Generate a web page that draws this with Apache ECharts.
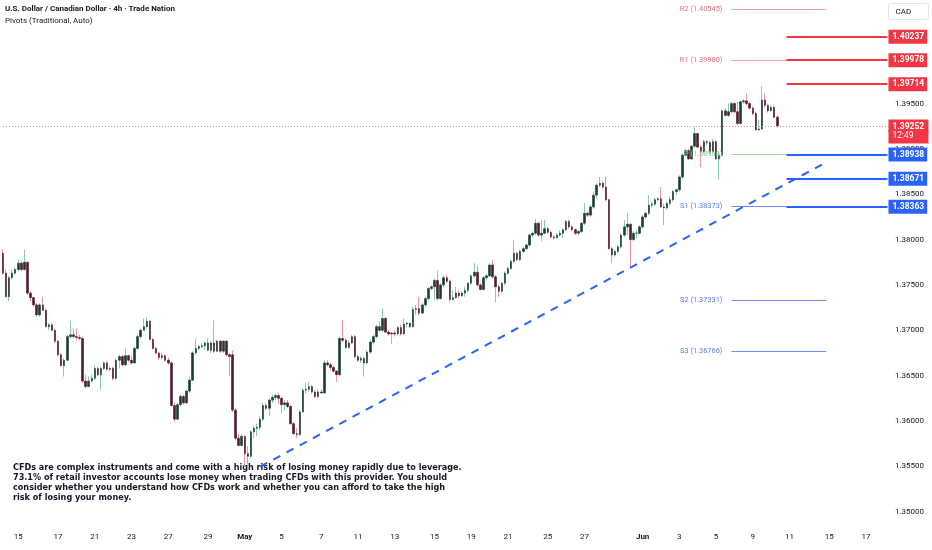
<!DOCTYPE html>
<html><head><meta charset="utf-8">
<script src="https://cdn.jsdelivr.net/npm/echarts@6/dist/echarts.min.js"></script>
<style>html,body{margin:0;padding:0;background:#fff}#c{width:932px;height:550px}</style>
</head><body><div id="c"></div>
<script>
// ---------- DATA (USD/CAD 4h candles) ----------
const opens = [
1.3785,1.3763,1.3737,1.3758,1.3763,1.3767,1.3774,1.3767,1.3775,1.3741,
1.3736,1.3728,1.3717,1.3728,1.3722,1.3704,1.3706,1.3700,1.3688,1.3673,
1.3661,1.3667,1.3693,1.3695,1.3693,1.3692,1.3691,1.3644,1.3638,1.3644,
1.3647,1.3658,1.3651,1.3658,1.3664,1.3657,1.3658,1.3647,1.3667,1.3671,
1.3662,1.3672,1.3667,1.3664,1.3680,1.3693,1.3700,1.3704,1.3710,1.3690,
1.3680,1.3675,1.3670,1.3672,1.3667,1.3664,1.3617,1.3602,1.3618,1.3627,
1.3620,1.3633,1.3645,1.3675,1.3680,1.3682,1.3683,1.3686,1.3678,1.3686,
1.3677,1.3688,1.3677,1.3688,1.3673,
1.3673,1.3612,1.3581,1.3573,1.3583,1.3564,1.3561,1.3588,1.3592,1.3593,
1.3602,1.3617,1.3614,1.3623,1.3626,1.3628,1.3625,1.3618,1.3620,1.3616,
1.3597,1.3586,1.3585,1.3610,1.3634,1.3635,1.3638,1.3632,1.3627,1.3632,
1.3631,1.3664,1.3662,1.3659,1.3655,1.3651,1.3691,1.3689,1.3681,1.3686,
1.3693,1.3671,1.3667,1.3669,1.3664,1.3676,1.3687,1.3693,1.3704,1.3700,
1.3713,1.3698,1.3696,1.3697,1.3696,1.3703,1.3696,1.3707,1.3708,1.3704,
1.3723,1.3724,1.3719,1.3728,1.3735,1.3746,1.3748,1.3755,1.3735,1.3750,
1.3758,1.3754,1.3734,1.3736,1.3741,1.3738,
1.3741,1.3744,1.3752,1.3760,1.3764,1.3750,1.3745,1.3758,1.3760,1.3772,
1.3759,1.3748,1.3743,1.3752,1.3763,1.3768,1.3776,1.3785,1.3778,1.3787,
1.3790,1.3794,1.3805,1.3807,1.3818,1.3805,1.3807,1.3812,1.3808,1.3803,
1.3802,1.3805,1.3807,1.3811,1.3820,1.3814,1.3811,1.3807,1.3809,1.3818,
1.3829,1.3827,1.3836,1.3849,1.3860,1.3862,1.3858,1.3844,1.3790,1.3783,
1.3787,1.3792,1.3805,1.3814,1.3817,1.3800,1.3807,1.3807,1.3814,1.3825,
1.3829,1.3838,1.3839,1.3844,
1.3845,1.3836,1.3835,1.3840,1.3844,1.3853,1.3855,1.3869,1.3893,1.3898,
1.3889,1.3903,1.3917,1.3902,1.3897,1.3908,1.3907,1.3897,1.3908,1.3889,
1.3893,1.3942,1.3937,1.3941,1.3950,1.3941,1.3928,1.3952,1.3953,1.3950,
1.3945,1.3939,1.3921,1.3922,1.3954,1.3948,1.3942,1.3946,1.3935
];
const closes = [
1.3763,1.3737,1.3758,1.3763,1.3767,1.3774,1.3767,1.3775,1.3741,1.3736,
1.3728,1.3717,1.3728,1.3722,1.3704,1.3706,1.3700,1.3688,1.3673,1.3661,
1.3667,1.3693,1.3695,1.3693,1.3692,1.3691,1.3644,1.3638,1.3644,1.3647,
1.3658,1.3651,1.3658,1.3664,1.3657,1.3658,1.3647,1.3667,1.3671,1.3662,
1.3672,1.3667,1.3664,1.3680,1.3693,1.3700,1.3704,1.3710,1.3690,1.3680,
1.3675,1.3670,1.3672,1.3667,1.3664,1.3617,1.3602,1.3618,1.3627,1.3620,
1.3633,1.3645,1.3675,1.3680,1.3682,1.3683,1.3686,1.3678,1.3686,1.3677,
1.3688,1.3677,1.3688,1.3673,1.3671,
1.3612,1.3581,1.3573,1.3583,1.3564,1.3561,1.3588,1.3592,1.3593,1.3602,
1.3617,1.3614,1.3623,1.3626,1.3628,1.3625,1.3618,1.3620,1.3616,1.3597,
1.3586,1.3585,1.3610,1.3634,1.3635,1.3638,1.3632,1.3627,1.3632,1.3631,
1.3664,1.3662,1.3659,1.3655,1.3651,1.3691,1.3689,1.3681,1.3686,1.3693,
1.3671,1.3667,1.3669,1.3664,1.3676,1.3687,1.3693,1.3704,1.3700,1.3713,
1.3698,1.3696,1.3697,1.3696,1.3703,1.3696,1.3707,1.3708,1.3704,1.3723,
1.3724,1.3719,1.3728,1.3735,1.3746,1.3748,1.3755,1.3735,1.3750,1.3758,
1.3754,1.3734,1.3736,1.3741,1.3738,1.3741,
1.3744,1.3752,1.3760,1.3764,1.3750,1.3745,1.3758,1.3760,1.3772,1.3759,
1.3748,1.3743,1.3752,1.3763,1.3768,1.3776,1.3785,1.3778,1.3787,1.3790,
1.3794,1.3805,1.3807,1.3818,1.3805,1.3807,1.3812,1.3808,1.3803,1.3802,
1.3805,1.3807,1.3811,1.3820,1.3814,1.3811,1.3807,1.3809,1.3818,1.3829,
1.3827,1.3836,1.3849,1.3860,1.3862,1.3858,1.3844,1.3790,1.3783,1.3787,
1.3792,1.3805,1.3814,1.3817,1.3800,1.3807,1.3807,1.3814,1.3825,1.3829,
1.3838,1.3839,1.3844,1.3845,
1.3836,1.3835,1.3840,1.3844,1.3853,1.3855,1.3869,1.3893,1.3898,1.3889,
1.3903,1.3917,1.3902,1.3897,1.3908,1.3907,1.3897,1.3908,1.3889,1.3893,
1.3942,1.3937,1.3941,1.3950,1.3941,1.3928,1.3952,1.3953,1.3950,1.3945,
1.3939,1.3921,1.3922,1.3954,1.3948,1.3942,1.3946,1.3935,1.39252
];
const lows = [
1.3761,1.3736,1.3732,1.3756,1.3761,1.3765,1.3765,1.3766,1.3739,1.3732,
1.3726,1.3715,1.3715,1.3721,1.3703,1.3700,1.3699,1.3686,1.3671,1.3660,
1.3649,1.3666,1.3691,1.3691,1.3689,1.3689,1.3642,1.3636,1.3638,1.3642,
1.3645,1.3649,1.3634,1.3656,1.3655,1.3655,1.3645,1.3646,1.3658,1.3660,
1.3661,1.3665,1.3662,1.3663,1.3679,1.3691,1.3699,1.3701,1.3689,1.3679,
1.3673,1.3667,1.3668,1.3665,1.3662,1.3616,1.3599,1.3601,1.3616,1.3618,
1.3619,1.3631,1.3644,1.3673,1.3678,1.3680,1.3678,1.3677,1.3675,1.3675,
1.3676,1.3675,1.3675,1.3671,1.3649,
1.3610,1.3579,1.3572,1.3572,1.3550,1.3552,1.3559,1.3581,1.3583,1.3590,
1.3600,1.3612,1.3605,1.3620,1.3623,1.3619,1.3608,1.3612,1.3614,1.3596,
1.3585,1.3581,1.3583,1.3609,1.3630,1.3632,1.3630,1.3625,1.3625,1.3630,
1.3630,1.3660,1.3656,1.3653,1.3643,1.3650,1.3687,1.3679,1.3680,1.3685,
1.3669,1.3665,1.3664,1.3649,1.3663,1.3674,1.3684,1.3691,1.3698,1.3698,
1.3697,1.3694,1.3685,1.3693,1.3695,1.3694,1.3695,1.3703,1.3702,1.3703,
1.3717,1.3716,1.3718,1.3726,1.3733,1.3744,1.3733,1.3733,1.3734,1.3748,
1.3752,1.3731,1.3733,1.3735,1.3735,1.3737,
1.3737,1.3742,1.3750,1.3758,1.3748,1.3744,1.3744,1.3755,1.3759,1.3757,
1.3731,1.3737,1.3741,1.3750,1.3761,1.3767,1.3774,1.3776,1.3776,1.3785,
1.3789,1.3792,1.3803,1.3805,1.3803,1.3798,1.3806,1.3806,1.3801,1.3800,
1.3801,1.3803,1.3802,1.3809,1.3812,1.3809,1.3805,1.3805,1.3807,1.3816,
1.3825,1.3825,1.3834,1.3845,1.3858,1.3856,1.3842,1.3789,1.3774,1.3781,
1.3785,1.3790,1.3803,1.3805,1.3770,1.3798,1.3801,1.3806,1.3812,1.3823,
1.3827,1.3835,1.3837,1.3842,
1.3835,1.3816,1.3833,1.3838,1.3842,1.3849,1.3853,1.3867,1.3892,1.3888,
1.3888,1.3901,1.3901,1.3880,1.3895,1.3904,1.3895,1.3895,1.3888,1.3866,
1.3892,1.3936,1.3935,1.3939,1.3939,1.3926,1.3927,1.3950,1.3948,1.3943,
1.3937,1.3920,1.3920,1.3921,1.3946,1.3940,1.3941,1.3934,1.3923
];
const highs = [
1.3789,1.3767,1.3760,1.3767,1.3769,1.3778,1.3776,1.3789,1.3776,1.3743,
1.3737,1.3730,1.3730,1.3737,1.3724,1.3708,1.3708,1.3702,1.3689,1.3675,
1.3669,1.3695,1.3710,1.3702,1.3702,1.3695,1.3693,1.3651,1.3649,1.3651,
1.3662,1.3660,1.3660,1.3666,1.3666,1.3660,1.3660,1.3669,1.3673,1.3673,
1.3680,1.3673,1.3672,1.3682,1.3695,1.3702,1.3713,1.3714,1.3711,1.3691,
1.3682,1.3676,1.3675,1.3673,1.3670,1.3666,1.3620,1.3620,1.3629,1.3629,
1.3634,1.3649,1.3677,1.3691,1.3684,1.3686,1.3688,1.3691,1.3688,1.3711,
1.3689,1.3689,1.3689,1.3689,1.3675,
1.3678,1.3614,1.3586,1.3586,1.3584,1.3572,1.3590,1.3595,1.3597,1.3605,
1.3620,1.3620,1.3625,1.3629,1.3630,1.3631,1.3627,1.3623,1.3623,1.3618,
1.3599,1.3592,1.3612,1.3636,1.3642,1.3643,1.3640,1.3634,1.3635,1.3635,
1.3667,1.3667,1.3664,1.3661,1.3656,1.3693,1.3711,1.3691,1.3689,1.3695,
1.3695,1.3673,1.3671,1.3671,1.3678,1.3689,1.3695,1.3706,1.3710,1.3724,
1.3715,1.3700,1.3698,1.3700,1.3705,1.3706,1.3713,1.3709,1.3708,1.3726,
1.3728,1.3737,1.3730,1.3737,1.3748,1.3750,1.3757,1.3766,1.3752,1.3761,
1.3761,1.3756,1.3744,1.3748,1.3744,1.3743,
1.3748,1.3753,1.3762,1.3774,1.3771,1.3752,1.3760,1.3762,1.3774,1.3778,
1.3761,1.3750,1.3753,1.3765,1.3770,1.3778,1.3800,1.3786,1.3789,1.3792,
1.3796,1.3807,1.3809,1.3823,1.3820,1.3822,1.3822,1.3814,1.3810,1.3805,
1.3807,1.3810,1.3812,1.3822,1.3822,1.3816,1.3812,1.3811,1.3820,1.3840,
1.3831,1.3838,1.3853,1.3862,1.3869,1.3864,1.3869,1.3845,1.3792,1.3789,
1.3794,1.3807,1.3822,1.3829,1.3818,1.3809,1.3811,1.3816,1.3827,1.3831,
1.3849,1.3842,1.3846,1.3847,
1.3858,1.3840,1.3842,1.3847,1.3855,1.3856,1.3871,1.3895,1.3900,1.3900,
1.3904,1.3924,1.3918,1.3904,1.3910,1.3910,1.3909,1.3911,1.3910,1.3897,
1.3943,1.3945,1.3950,1.3952,1.3952,1.3952,1.3953,1.3955,1.3961,1.3952,
1.3947,1.3941,1.3932,1.3969,1.3961,1.3950,1.3948,1.3948,1.3937
];

// x axis: bar slots (incl. empty future slots) and date tick labels
const slotCount = 290;
const tickIndex  = [5,18,30,42,54,67,79,91,104,116,128,141,153,165,178,190,209,221,233,245,257,270,282];
const tickLabels = ['15','17','21','23','27','29','May','5','7','11','13','15','19','21','25','27','Jun','3','5','9','11','15','17'];
const boldTicks = ['May','Jun'];

// y axis
const yMin = 1.34853, yMax = 1.40642;
const yTicks = [1.35,1.355,1.36,1.365,1.37,1.375,1.38,1.385,1.39,1.395,1.40];

// pivots (Traditional, Auto)
const pivotNames  = ['R2','R1','P','S1','S2','S3'];
const pivotValues = [1.40545,1.39980,1.38938,1.38373,1.37331,1.36766];
const pivotFrom = 238, pivotTo = 269;

// drawn horizontal levels
const resistLevels = [1.40237,1.39978,1.39714];
const supportLevels = [1.38938,1.38671,1.38363];
const levelFrom = 256, levelTo = 289;

// rising trend line (bar index, price)
const trendStart = [84, 1.35496];
const trendEnd   = [269, 1.38852];

const lastPrice = 1.39252;
const countdown = '12:49';

// ---------- CHART ----------
const FONT = 'Roboto, "Liberation Sans", sans-serif';
const UP_BODY = '#173d33', DN_BODY = '#4d1d29';
const UP_WICK = '#86cdb3', DN_WICK = '#f295a3';
const RED = '#f23645', BLUE = '#2962ff';

const slots = Array.from({length: slotCount}, (_, i) => String(i));
const tickMap = {};
tickIndex.forEach((k, j) => { tickMap[k] = tickLabels[j]; });

const wickData = opens.map((o, i) => [o, closes[i], lows[i], highs[i]]);
const bodyData = opens.map((o, i) => [o, closes[i], Math.min(o, closes[i]), Math.max(o, closes[i])]);

const pivotColor = n => n[0] === 'R' ? '#f5a3aa' : (n[0] === 'P' ? '#9fd49f' : '#6f8ff2');
const pivotText  = n => n[0] === 'R' ? '#f06d78' : (n[0] === 'P' ? '#8fca8f' : '#5a7ee8');

const levelLabel = (bg) => ({
  show: true, position: 'end', distance: 1,
  backgroundColor: bg, color: '#fff', padding: [2, 3, 2, 4],
  fontSize: 8.5, fontWeight: 'bold', fontFamily: FONT, lineHeight: 10
});

const markLines = [];
pivotNames.forEach((n, k) => {
  markLines.push([
    { coord: [pivotFrom, pivotValues[k]],
      lineStyle: { color: pivotColor(n), width: 1, type: 'solid' },
      label: { show: true, position: 'start', distance: 9, formatter: n + ' (' + pivotValues[k].toFixed(5) + ')',
               color: pivotText(n), fontSize: 7.4, fontFamily: FONT } },
    { coord: [pivotTo, pivotValues[k]] }
  ]);
});
resistLevels.forEach(v => {
  markLines.push([
    { coord: [levelFrom, v], lineStyle: { color: RED, width: 2, type: 'solid' },
      label: Object.assign(levelLabel(RED), { formatter: v.toFixed(5) }) },
    { coord: [levelTo, v] }
  ]);
});
supportLevels.forEach(v => {
  markLines.push([
    { coord: [levelFrom, v], lineStyle: { color: BLUE, width: 2, type: 'solid' },
      label: Object.assign(levelLabel(BLUE), { formatter: v.toFixed(5) }) },
    { coord: [levelTo, v] }
  ]);
});
markLines.push([
  { coord: trendStart, lineStyle: { color: BLUE, width: 2, type: [8, 7] }, label: { show: false } },
  { coord: trendEnd }
]);
markLines.push([
  { coord: [0, lastPrice],
    lineStyle: { color: '#f57a85', width: 1, type: [1, 2] },
    label: {
      show: true, position: 'end', distance: 1,
      formatter: '{e| }\n{a|' + lastPrice.toFixed(5) + '}\n{b|' + countdown + '}',
      rich: {
        e: { fontSize: 8.5, lineHeight: 11, height: 11 },
        a: { backgroundColor: RED, color: '#fff', width: 33, padding: [2, 3, 0, 4], fontSize: 8.5, fontWeight: 'bold', fontFamily: FONT, lineHeight: 11, height: 11 },
        b: { backgroundColor: RED, color: '#fff', width: 33, padding: [0, 3, 2, 4], fontSize: 8.5, fontFamily: FONT, lineHeight: 11, height: 11 }
      }
    } },
  { coord: [slotCount - 1, lastPrice] }
]);

const chart = echarts.init(document.getElementById('c'));
chart.setOption({
  animation: false,
  backgroundColor: '#ffffff',
  grid: { left: 0, right: 43, top: 0, bottom: 25, containLabel: false },
  xAxis: {
    type: 'category', data: slots, boundaryGap: true,
    axisLine: { show: false }, axisTick: { show: false }, splitLine: { show: false },
    axisLabel: {
      interval: 0, margin: 8, fontSize: 8, color: '#131722', fontFamily: FONT,
      formatter: (v, i) => {
        const t = tickMap[i];
        if (!t) return '';
        return boldTicks.includes(t) ? '{b|' + t + '}' : t;
      },
      rich: { b: { fontWeight: 'bold', fontSize: 8, color: '#131722', fontFamily: FONT } }
    }
  },
  yAxis: {
    type: 'value', position: 'right', min: yMin, max: yMax,
    axisLine: { show: false }, axisTick: { show: false }, splitLine: { show: false },
    axisLabel: {
      customValues: yTicks, margin: 6, fontSize: 8, color: '#131722', fontFamily: FONT,
      formatter: v => v.toFixed(5)
    }
  },
  graphic: [
    { type: 'text', left: 5, top: 5, style: { text: 'U.S. Dollar / Canadian Dollar · 4h · Trade Nation', fontSize: 8, fontWeight: 'bold', fontFamily: FONT, fill: '#131722' } },
    { type: 'text', left: 5, top: 17, style: { text: 'Pivots (Traditional, Auto)', fontSize: 8, fontFamily: FONT, fill: '#131722' } },
    { type: 'group', right: 3, top: 3, children: [
      { type: 'rect', shape: { x: 0, y: 0, width: 40, height: 16, r: 2 }, style: { fill: '#fff', stroke: '#e0e3eb', lineWidth: 1 } },
      { type: 'text', x: 7, y: 4.5, style: { text: 'CAD', fontSize: 8, fontFamily: FONT, fill: '#131722' } }
    ] },
    { type: 'text', left: 13, top: 463, style: {
      text: 'CFDs are complex instruments and come with a high risk of losing money rapidly due to leverage.\n73.1% of retail investor accounts lose money when trading CFDs with this provider. You should\nconsider whether you understand how CFDs work and whether you can afford to take the high\nrisk of losing your money.',
      fontSize: 9, fontWeight: 'bold', fontFamily: '"DejaVu Sans Condensed", "DejaVu Sans", sans-serif', lineHeight: 10, fill: '#131722' } }
  ],
  series: [
    {
      type: 'candlestick', name: 'wicks', data: wickData, barWidth: 1, silent: true,
      itemStyle: { color: UP_WICK, color0: DN_WICK, borderColor: UP_WICK, borderColor0: DN_WICK, borderWidth: 1 },
      markLine: { silent: true, symbol: ['none', 'none'], animation: false, data: markLines }
    },
    {
      type: 'candlestick', name: 'bodies', data: bodyData, barWidth: 2, silent: true,
      itemStyle: { color: UP_BODY, color0: DN_BODY, borderColor: UP_BODY, borderColor0: DN_BODY, borderWidth: 0.6 }
    }
  ]
});
</script>
</body></html>
